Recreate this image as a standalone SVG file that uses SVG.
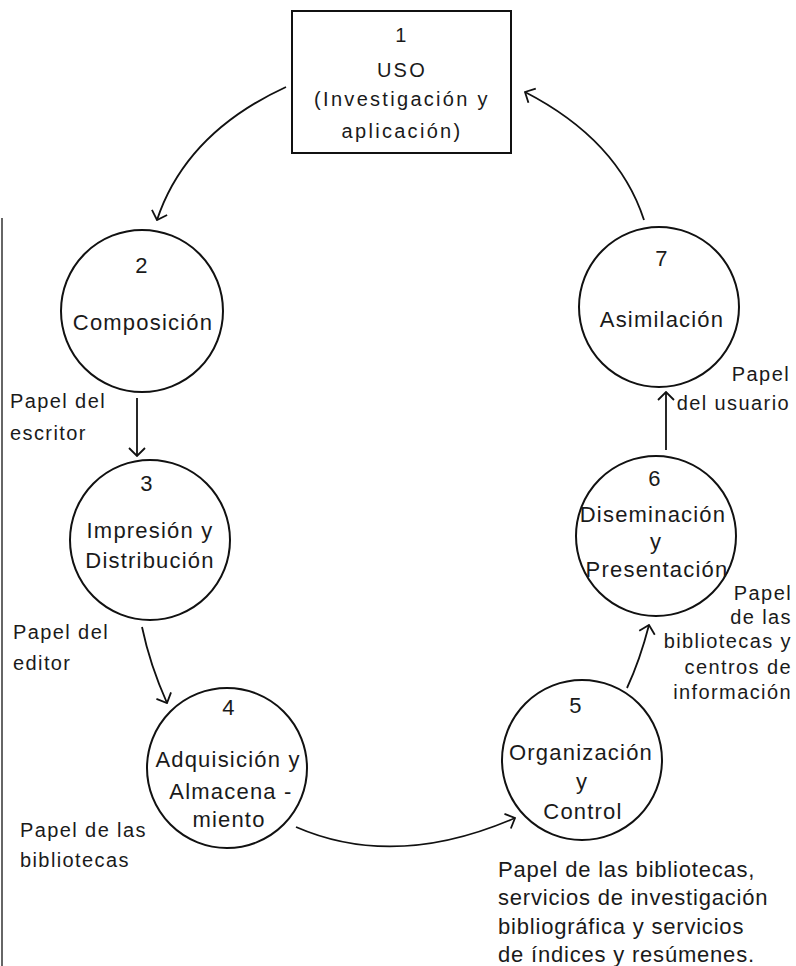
<svg xmlns="http://www.w3.org/2000/svg" width="796" height="966" viewBox="0 0 796 966">
<style>
text{font-family:"Liberation Sans",Arial,sans-serif;fill:#1a1a1a;}
.n{font-size:22px;letter-spacing:1.2px;text-anchor:middle;}
.b{font-size:20px;letter-spacing:2.3px;text-anchor:middle;}
.l{font-size:20px;letter-spacing:1.4px;}
.r{font-size:20px;letter-spacing:1.4px;text-anchor:end;}
.c{font-size:22px;letter-spacing:0.8px;}
.shape{fill:#fff;stroke:#111;stroke-width:2;}
.con{fill:none;stroke:#111;stroke-width:1.8;marker-end:url(#ah);}
</style>
<defs>
<marker id="ah" viewBox="0 0 10 18" refX="9" refY="9" markerWidth="10" markerHeight="18" markerUnits="userSpaceOnUse" orient="auto">
<path d="M1,1 L9,9 L1,17" fill="none" stroke="#111" stroke-width="1.8"/>
</marker>
</defs>
<line x1="2" y1="218" x2="2" y2="966" stroke="#333" stroke-width="1.5"/>
<g id="connectors">
<path class="con" d="M286,87 Q186,133 157,220"/>
<path class="con" d="M137,398 L137,456"/>
<path class="con" d="M142,627 Q150,665 167,703"/>
<path class="con" d="M296,827 Q395,870 515,818"/>
<path class="con" d="M627,688 Q640,660 649,625"/>
<path class="con" d="M666,450 L666,392"/>
<path class="con" d="M644,220 Q618,140 525,92"/>
</g>
<g id="node1">
<rect class="shape" x="292" y="11" width="219" height="142"/>
<text class="b" x="402" y="42">1</text>
<text class="b" x="402" y="77">USO</text>
<text class="b" x="402" y="106">(Investigación y</text>
<text class="b" x="402" y="138">aplicación)</text>
</g>
<g id="node2">
<circle class="shape" cx="142" cy="311" r="81"/>
<text class="n" x="142" y="273">2</text>
<text class="n" x="143" y="330">Composición</text>
</g>
<g id="node3">
<circle class="shape" cx="150" cy="540" r="80"/>
<text class="n" x="147" y="491">3</text>
<text class="n" x="150" y="538">Impresión y</text>
<text class="n" x="150" y="568">Distribución</text>
</g>
<g id="node4">
<circle class="shape" cx="227" cy="768" r="80"/>
<text class="n" x="229" y="715">4</text>
<text class="n" x="228" y="767">Adquisición y</text>
<text class="n" x="231" y="799">Almacena -</text>
<text class="n" x="229" y="827">miento</text>
</g>
<g id="node5">
<circle class="shape" cx="582" cy="760" r="80"/>
<text class="n" x="576" y="713">5</text>
<text class="n" x="581" y="760">Organización</text>
<text class="n" x="582" y="789">y</text>
<text class="n" x="583" y="819">Control</text>
</g>
<g id="node6">
<circle class="shape" cx="656" cy="536" r="80"/>
<text class="n" x="655" y="486">6</text>
<text class="n" x="653" y="522">Diseminación</text>
<text class="n" x="656" y="549">y</text>
<text class="n" x="657" y="577">Presentación</text>
</g>
<g id="node7">
<circle class="shape" cx="659" cy="307" r="80"/>
<text class="n" x="662" y="266">7</text>
<text class="n" x="662" y="327">Asimilación</text>
</g>
<g id="labels">
<text class="l" x="10" y="408">Papel del</text>
<text class="l" x="10" y="440">escritor</text>
<text class="l" x="13" y="639">Papel del</text>
<text class="l" x="13" y="670">editor</text>
<text class="l" x="20" y="837">Papel de las</text>
<text class="l" x="20" y="867">bibliotecas</text>
<text class="r" x="790" y="381">Papel</text>
<text class="r" x="790" y="410">del usuario</text>
<text class="r" x="792" y="600">Papel</text>
<text class="r" x="792" y="624">de las</text>
<text class="r" x="792" y="648">bibliotecas y</text>
<text class="r" x="792" y="674">centros de</text>
<text class="r" x="792" y="699">información</text>
<text class="c" x="498" y="877">Papel de las bibliotecas,</text>
<text class="c" x="498" y="905">servicios de investigación</text>
<text class="c" x="498" y="934">bibliográfica y servicios</text>
<text class="c" x="498" y="962">de índices y resúmenes.</text>
</g>
</svg>
